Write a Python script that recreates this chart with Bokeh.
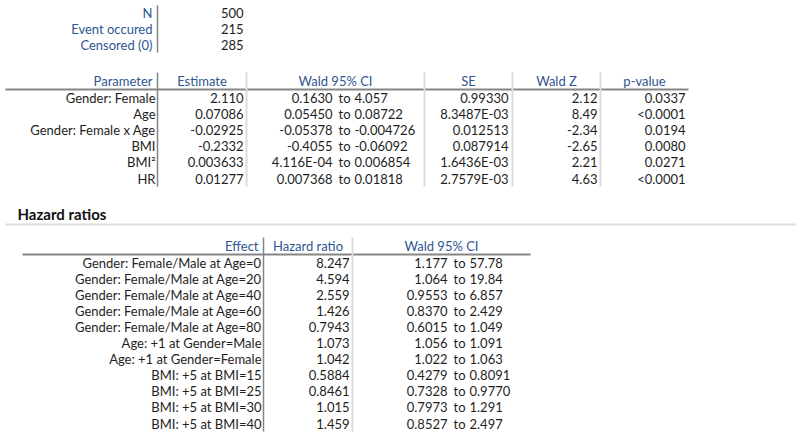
from bokeh.plotting import figure
from bokeh.models import Range1d
from bokeh.core.properties import value
from bokeh.embed import file_html
from bokeh.resources import INLINE

# ---------------- data ----------------
summary_labels = ["N", "Event occured", "Censored (0)"]
summary_values = ["500", "215", "285"]

param_headers = ["Parameter", "Estimate", "Wald 95% CI", "SE", "Wald Z", "p-value"]
param_names = ["Gender: Female", "Age", "Gender: Female x Age", "BMI", "BMI\u00b2", "HR"]
param_estimates = ["2.110", "0.07086", "-0.02925", "-0.2332", "0.003633", "0.01277"]
param_ci_lower = ["0.1630", "0.05450", "-0.05378", "-0.4055", "4.116E-04", "0.007368"]
param_ci_upper = ["4.057", "0.08722", "-0.004726", "-0.06092", "0.006854", "0.01818"]
param_se = ["0.99330", "8.3487E-03", "0.012513", "0.087914", "1.6436E-03", "2.7579E-03"]
param_z = ["2.12", "8.49", "-2.34", "-2.65", "2.21", "4.63"]
param_p = ["0.0337", "<0.0001", "0.0194", "0.0080", "0.0271", "<0.0001"]

section_title = "Hazard ratios"
hr_headers = ["Effect", "Hazard ratio", "Wald 95% CI"]
hr_effects = ["Gender: Female/Male at Age=0", "Gender: Female/Male at Age=20",
              "Gender: Female/Male at Age=40", "Gender: Female/Male at Age=60",
              "Gender: Female/Male at Age=80", "Age: +1 at Gender=Male",
              "Age: +1 at Gender=Female", "BMI: +5 at BMI=15", "BMI: +5 at BMI=25",
              "BMI: +5 at BMI=30", "BMI: +5 at BMI=40"]
hr_values = ["8.247", "4.594", "2.559", "1.426", "0.7943", "1.073", "1.042",
             "0.5884", "0.8461", "1.015", "1.459"]
hr_ci_lower = ["1.177", "1.064", "0.9553", "0.8370", "0.6015", "1.056", "1.022",
               "0.4279", "0.7328", "0.7973", "0.8527"]
hr_ci_upper = ["57.78", "19.84", "6.857", "2.429", "1.049", "1.091", "1.063",
               "0.8091", "0.9770", "1.291", "2.497"]

# ---------------- styling ----------------
FONT = value("Lato")
FS = "13px"
BLUE = "#2f5690"
INK = "#1e1e1e"
DARK_RULE = "#858585"
LIGHT_RULE = "#dcdcdc"

W, H = 800, 436
p = figure(width=W, height=H, output_backend="svg", toolbar_location=None,
           x_range=Range1d(0, W), y_range=Range1d(H, 0),
           min_border=0, min_border_left=0, min_border_right=0,
           min_border_top=0, min_border_bottom=0)
p.axis.visible = False
p.grid.visible = False
p.outline_line_color = None
p.background_fill_color = "white"
p.border_fill_color = "white"


def txt(xs, ys, texts, align, color=INK, size=FS, style="normal"):
    p.text(x=xs, y=ys, text=texts, text_align=align, text_baseline="middle",
           text_font=FONT, text_font_size=size, text_color=color,
           text_font_style=style)


# ---------------- summary block ----------------
sum_rows = [12 + i * 16 for i in range(len(summary_labels))]
txt([152] * len(sum_rows), sum_rows, summary_labels, "right", BLUE)
txt([243] * len(sum_rows), sum_rows, summary_values, "right")
p.segment(x0=[157], y0=[5], x1=[157], y1=[52], line_color=DARK_RULE, line_width=1.5)

# ---------------- parameter table ----------------
pb = [5, 157, 246, 424, 512, 600, 688]
ph_y = 80
p_rows = [97 + i * 16.2 for i in range(len(param_names))]
# header
txt([152], [ph_y], [param_headers[0]], "right", BLUE)
txt([(pb[i] + pb[i + 1]) / 2 for i in range(1, 6)], [ph_y] * 5, param_headers[1:], "center", BLUE)
# rules
p.segment(x0=[pb[0]], y0=[89], x1=[pb[-1]], y1=[89], line_color=DARK_RULE, line_width=2)
p.segment(x0=pb[2:6], y0=[72] * 4, x1=pb[2:6], y1=[186] * 4, line_color=LIGHT_RULE, line_width=2)
p.segment(x0=[pb[1]], y0=[72], x1=[pb[1]], y1=[186], line_color=DARK_RULE, line_width=1.5)
# body
n = len(param_names)
txt([155] * n, p_rows, param_names, "right")
txt([243] * n, p_rows, param_estimates, "right")
txt([332] * n, p_rows, param_ci_lower, "right")
txt([344] * n, p_rows, ["to"] * n, "center")
txt([354] * n, p_rows, param_ci_upper, "left")
txt([508] * n, p_rows, param_se, "right")
txt([597] * n, p_rows, param_z, "right")
txt([685] * n, p_rows, param_p, "right")

# ---------------- hazard ratios section ----------------
txt([17], [213], [section_title], "left", "#111111", "15px", "bold")
p.segment(x0=[5], y0=[224], x1=[795], y1=[224], line_color=LIGHT_RULE, line_width=2)

hb = [22, 263, 352, 530]
hh_y = 245
h_rows = [262 + i * 16.1 for i in range(len(hr_effects))]
txt([258], [hh_y], [hr_headers[0]], "right", BLUE)
txt([(hb[1] + hb[2]) / 2, (hb[2] + hb[3]) / 2], [hh_y] * 2, hr_headers[1:], "center", BLUE)
p.segment(x0=[hb[0]], y0=[254], x1=[hb[-1]], y1=[254], line_color=DARK_RULE, line_width=2)
p.segment(x0=[hb[2]], y0=[237], x1=[hb[2]], y1=[431], line_color=LIGHT_RULE, line_width=2)
p.segment(x0=[hb[1]], y0=[237], x1=[hb[1]], y1=[431], line_color=DARK_RULE, line_width=1.5)
m = len(hr_effects)
txt([261] * m, h_rows, hr_effects, "right")
txt([349] * m, h_rows, hr_values, "right")
txt([447] * m, h_rows, hr_ci_lower, "right")
txt([459] * m, h_rows, ["to"] * m, "center")
txt([469] * m, h_rows, hr_ci_upper, "left")

open("out.html", "w").write(file_html(p, INLINE))
